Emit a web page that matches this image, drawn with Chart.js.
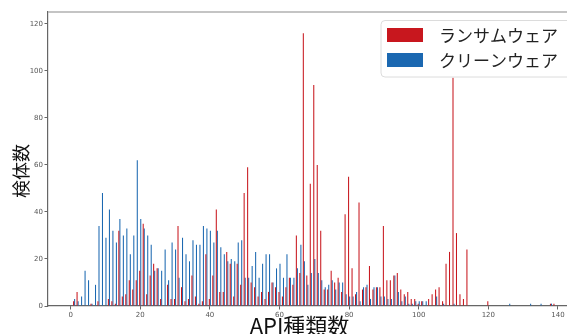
<!DOCTYPE html>
<html>
<head>
<meta charset="utf-8">
<script src="https://cdn.jsdelivr.net/npm/chart.js@4.4.1/dist/chart.umd.min.js"></script>
<style>
  html, body { margin: 0; padding: 0; background: #fff; overflow: hidden; }
  #wrap { width: 567px; height: 334px; }
</style>
</head>
<body>
<div id="wrap"><canvas id="myChart" width="567" height="334"></canvas></div>
<script>
// number of API kinds (x values)
const apiCounts = [
  1, 2, 3, 4, 5, 6, 7, 8, 9, 10,
  11, 12, 13, 14, 15, 16, 17, 18, 19, 20,
  21, 22, 23, 24, 25, 26, 27, 28, 29, 30,
  31, 32, 33, 34, 35, 36, 37, 38, 39, 40,
  41, 42, 43, 44, 45, 46, 47, 48, 49, 50,
  51, 52, 53, 54, 55, 56, 57, 58, 59, 60,
  61, 62, 63, 64, 65, 66, 67, 68, 69, 70,
  71, 72, 73, 74, 75, 76, 77, 78, 79, 80,
  81, 82, 83, 84, 85, 86, 87, 88, 89, 90,
  91, 92, 93, 94, 95, 96, 97, 98, 99, 100,
  101, 102, 103, 104, 105, 106, 107, 108, 109, 110,
  111, 112, 113, 114, 120, 126, 132, 135, 138, 139
];

// ransomware sample counts
const ransomware = [
  2, 6, 0, 0, 0, 1, 0, 2, 0, 0,
  3, 2, 1, 32, 4, 5, 11, 7, 11, 15,
  35, 5, 13, 18, 16, 3, 0, 9, 3, 3,
  34, 8, 2, 3, 13, 4, 1, 2, 22, 3,
  13, 41, 6, 6, 23, 18, 4, 18, 9, 48,
  59, 10, 8, 4, 6, 3, 6, 10, 8, 6,
  4, 8, 12, 9, 30, 14, 116, 13, 52, 94,
  60, 32, 7, 7, 15, 10, 12, 6, 39, 55,
  16, 5, 44, 7, 8, 17, 7, 8, 8, 34,
  11, 11, 13, 14, 7, 5, 6, 3, 3, 1,
  2, 0, 3, 5, 7, 8, 2, 18, 23, 97,
  31, 5, 3, 24, 2, 0, 0, 0, 1, 1
];

// cleanware sample counts
const cleanware = [
  3, 2, 4, 15, 11, 1, 9, 34, 48, 29,
  41, 32, 27, 37, 30, 33, 22, 30, 62, 37,
  33, 30, 26, 15, 16, 15, 24, 11, 27, 24,
  12, 29, 22, 19, 28, 26, 26, 34, 33, 32,
  27, 32, 25, 22, 19, 20, 19, 27, 28, 12,
  12, 17, 23, 12, 18, 22, 22, 10, 16, 18,
  12, 22, 12, 12, 16, 26, 19, 9, 14, 20,
  14, 11, 8, 9, 11, 7, 10, 10, 5, 4,
  4, 6, 2, 8, 9, 3, 8, 8, 4, 4,
  3, 3, 13, 6, 2, 4, 1, 1, 2, 2,
  2, 2, 0, 0, 4, 0, 1, 0, 0, 1,
  0, 0, 0, 0, 0, 1, 1, 1, 1, 0
];

const seriesNames = ["ランサムウェア", "クリーンウェア"];
const xTicks = [0, 20, 40, 60, 80, 100, 120, 140];
const yTicks = [0, 20, 40, 60, 80, 100, 120];
const xTitle = "API種類数";
const yTitle = "検体数";

const RED = "#c8171e";
const BLUE = "#1b68b1";
const JP_FONT = "'Noto Sans CJK JP', 'Noto Sans', sans-serif";

function toPoints(values) {
  return apiCounts.map((x, i) => ({ x: x, y: values[i] }));
}

// legend drawn inside the plot, matplotlib style
const legendBox = {
  id: "legendBox",
  afterDatasetsDraw(chart) {
    const ctx = chart.ctx;
    ctx.save();
    const bx = 381, by = 20.5, bw = 200, bh = 56.5, r = 4;
    ctx.beginPath();
    ctx.moveTo(bx + r, by);
    ctx.lineTo(bx + bw - r, by);
    ctx.arcTo(bx + bw, by, bx + bw, by + r, r);
    ctx.lineTo(bx + bw, by + bh - r);
    ctx.arcTo(bx + bw, by + bh, bx + bw - r, by + bh, r);
    ctx.lineTo(bx + r, by + bh);
    ctx.arcTo(bx, by + bh, bx, by + bh - r, r);
    ctx.lineTo(bx, by + r);
    ctx.arcTo(bx, by, bx + r, by, r);
    ctx.closePath();
    ctx.fillStyle = "rgba(255,255,255,0.8)";
    ctx.fill();
    ctx.strokeStyle = "#dcdcdc";
    ctx.lineWidth = 1;
    ctx.stroke();

    ctx.font = "17px " + JP_FONT;
    ctx.textBaseline = "middle";
    chart.data.datasets.forEach((ds, i) => {
      const y = 28 + i * 25;
      ctx.fillStyle = ds.backgroundColor;
      ctx.fillRect(387, y, 36, 14);
      ctx.fillStyle = "#222";
      ctx.fillText(ds.label, 439, y + 7.5);
    });
    ctx.restore();
  }
};

// top spine + axis titles
const frameAndTitles = {
  id: "frameAndTitles",
  afterDraw(chart) {
    const { ctx, chartArea } = chart;
    ctx.save();
    ctx.strokeStyle = "#b0b0b0";
    ctx.lineWidth = 1.3;
    ctx.beginPath();
    ctx.moveTo(chartArea.left, chartArea.top);
    ctx.lineTo(chartArea.right, chartArea.top);
    ctx.stroke();

    ctx.fillStyle = "#111";
    ctx.textAlign = "center";
    ctx.textBaseline = "middle";
    ctx.font = "22px " + JP_FONT;
    ctx.fillText(xTitle, 299.5, 325.5);

    ctx.translate(21, 171);
    ctx.rotate(-Math.PI / 2);
    ctx.font = "18px " + JP_FONT;
    ctx.fillText(yTitle, 0, 0);
    ctx.restore();
  }
};

const chart = new Chart(document.getElementById("myChart"), {
  type: "bar",
  data: {
    datasets: [
      {
        label: seriesNames[0],
        data: toPoints(ransomware),
        backgroundColor: RED,
        categoryPercentage: 0.6,
        barPercentage: 1.0,
      },
      {
        label: seriesNames[1],
        data: toPoints(cleanware),
        backgroundColor: BLUE,
        categoryPercentage: 0.6,
        barPercentage: 1.0,
      },
    ],
  },
  options: {
    responsive: false,
    devicePixelRatio: 1,
    animation: false,
    layout: { padding: { top: 12, right: 0, left: 0, bottom: 0 } },
    plugins: {
      legend: { display: false },
      tooltip: { enabled: false },
    },
    scales: {
      x: {
        type: "linear",
        min: -6.5,
        max: 142.6,
        offset: false,
        afterBuildTicks: (scale) => {
          scale.ticks = xTicks.map((v) => ({ value: v }));
        },
        afterFit: (scale) => {
          scale.height = 28;
        },
        ticks: {
          font: { family: "'DejaVu Sans', sans-serif", size: 7 },
          color: "#555",
          padding: 1.5,
          maxRotation: 0,
        },
        grid: {
          offset: false,
          drawOnChartArea: false,
          drawTicks: true,
          tickLength: 3.5,
          color: "#666",
        },
        border: { display: true, color: "#666", width: 1.2 },
      },
      y: {
        min: 0,
        max: 125,
        afterBuildTicks: (scale) => {
          scale.ticks = yTicks.map((v) => ({ value: v }));
        },
        afterFit: (scale) => {
          scale.width = 48;
        },
        ticks: {
          font: { family: "'DejaVu Sans', sans-serif", size: 7 },
          color: "#555",
          padding: 1.5,
        },
        grid: {
          drawOnChartArea: false,
          drawTicks: true,
          tickLength: 3.5,
          color: "#666",
        },
        border: { display: true, color: "#666", width: 1.2 },
      },
    },
  },
  plugins: [legendBox, frameAndTitles],
});
</script>
</body>
</html>
